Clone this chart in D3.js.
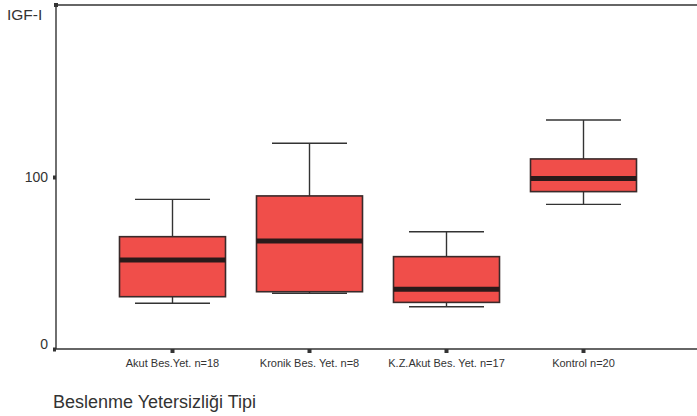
<!DOCTYPE html>
<html>
<head>
<meta charset="utf-8">
<script src="https://cdn.jsdelivr.net/npm/d3@7"></script>
<style>
  body { margin: 0; background: #fff; }
  svg text { font-family: "Liberation Sans", Arial, sans-serif; fill: #333; }
</style>
</head>
<body>
<svg id="chart" width="697" height="416"></svg>
<script>
// IGF-I distribution by type of nutritional deficiency
const categories = ["Akut Bes.Yet. n=18", "Kronik Bes. Yet. n=8", "K.Z.Akut Bes. Yet. n=17", "Kontrol n=20"];
const whiskerLow  = [26.6, 32.4, 24.6, 84.1];
const q1          = [30.4, 33.3, 27.1, 91.5];
const median      = [51.7, 62.8, 34.7, 99.2];
const q3          = [65.3, 89.0, 53.7, 110.5];
const whiskerHigh = [87.0, 119.6, 68.2, 133.1];
const yTicks = [0, 100];

const svg = d3.select("#chart");
const plotLeft = 56, plotRight = 697, plotTop = 5, plotBottom = 349;

const x = d3.scaleBand().domain(categories).range([104, 652]);
const y = d3.scaleLinear().domain([0, 200]).range([plotBottom, plotTop]);

const boxW = 106, capW = 75;
const ink = "#333";

// frame: top line
svg.append("line")
  .attr("x1", plotLeft).attr("x2", plotRight).attr("y1", plotTop).attr("y2", plotTop)
  .attr("stroke", ink).attr("stroke-width", 1.3);

const data = categories.map((c, i) => ({
  c, lo: whiskerLow[i], q1: q1[i], med: median[i], q3: q3[i], hi: whiskerHigh[i]
}));

const g = svg.append("g").selectAll("g").data(data).join("g")
  .attr("transform", d => `translate(${x(d.c) + x.bandwidth() / 2},0)`);

// whisker stems
g.append("line").attr("x1", 0).attr("x2", 0)
  .attr("y1", d => y(d.hi)).attr("y2", d => y(d.q3))
  .attr("stroke", ink).attr("stroke-width", 1.4);
g.append("line").attr("x1", 0).attr("x2", 0)
  .attr("y1", d => y(d.q1)).attr("y2", d => y(d.lo))
  .attr("stroke", ink).attr("stroke-width", 1.4);
// caps
g.append("line").attr("x1", -capW / 2).attr("x2", capW / 2)
  .attr("y1", d => y(d.hi)).attr("y2", d => y(d.hi))
  .attr("stroke", ink).attr("stroke-width", 1.4);
g.append("line").attr("x1", -capW / 2).attr("x2", capW / 2)
  .attr("y1", d => y(d.lo)).attr("y2", d => y(d.lo))
  .attr("stroke", ink).attr("stroke-width", 1.4);
// boxes
g.append("rect")
  .attr("x", -boxW / 2).attr("width", boxW)
  .attr("y", d => y(d.q3)).attr("height", d => y(d.q1) - y(d.q3))
  .attr("fill", "#f04e4a").attr("stroke", "#3a2a2a").attr("stroke-width", 1.6);
// medians
g.append("line").attr("x1", -boxW / 2).attr("x2", boxW / 2)
  .attr("y1", d => y(d.med)).attr("y2", d => y(d.med))
  .attr("stroke", "#2a1a1a").attr("stroke-width", 5);

// y axis
const yAxis = svg.append("g").attr("transform", `translate(${plotLeft},0)`)
  .call(d3.axisLeft(y).tickValues(yTicks).tickSize(3).tickPadding(5).tickFormat(d3.format("d")));
yAxis.select(".domain").attr("stroke", ink).attr("stroke-width", 1.4).attr("d", `M0,${plotTop}V${plotBottom}`);
yAxis.selectAll(".tick line").attr("stroke", ink).attr("stroke-width", 4);
yAxis.selectAll(".tick text").attr("font-size", 14).attr("fill", "#333")
  .attr("dy", d => d === 0 ? "-0.05em" : "0.32em");

// x axis
const xAxis = svg.append("g").attr("transform", `translate(0,${plotBottom})`)
  .call(d3.axisBottom(x).tickSize(4).tickPadding(6));
xAxis.select(".domain").attr("stroke", ink).attr("stroke-width", 1.4).attr("d", `M${plotLeft},0H${plotRight}`);
xAxis.selectAll(".tick line").attr("stroke", ink).attr("stroke-width", 4);
xAxis.selectAll(".tick text").attr("font-size", 11).attr("fill", "#333");

// corner mark
svg.append("rect").attr("x", plotLeft - 2).attr("y", plotTop - 2).attr("width", 4).attr("height", 4).attr("fill", ink);

// axis titles
svg.append("text").attr("x", 7).attr("y", 20).attr("font-size", 15.5).text("IGF-I");
svg.append("text").attr("x", 53).attr("y", 408).attr("font-size", 18).text("Beslenme Yetersizliği Tipi");
</script>
</body>
</html>
